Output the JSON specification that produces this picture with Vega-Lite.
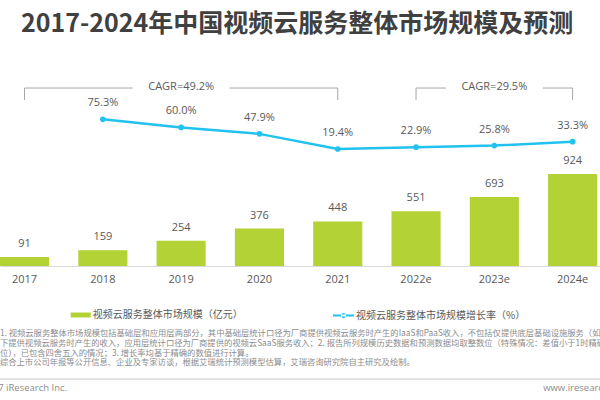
{
  "$schema": "https://vega.github.io/schema/vega-lite/v6.json",
  "autosize": "none",
  "width": 600,
  "height": 186,
  "padding": {"top": 80, "left": 0, "right": 0, "bottom": 134},
  "background": "white",
  "title": {
    "text": "2017-2024年中国视频云服务整体市场规模及预测",
    "anchor": "start",
    "frame": "group",
    "dx": 21,
    "offset": 23,
    "baseline": "alphabetic",
    "fontSize": 25,
    "fontWeight": "bold",
    "color": "#404040",
    "font": "Noto Sans CJK SC"
  },
  "config": {
    "view": {"stroke": null},
    "font": "Open Sans, Noto Sans CJK SC"
  },
  "datasets": {
    "main": [
      {"year": "2017", "size": 91, "rate": null},
      {"year": "2018", "size": 159, "rate": 0.753},
      {"year": "2019", "size": 254, "rate": 0.600},
      {"year": "2020", "size": 376, "rate": 0.479},
      {"year": "2021", "size": 448, "rate": 0.194},
      {"year": "2022e", "size": 551, "rate": 0.229},
      {"year": "2023e", "size": 693, "rate": 0.258},
      {"year": "2024e", "size": 924, "rate": 0.333}
    ],
    "cagr": [
      {"start": "2017", "mid": "2019", "end": "2021", "label": "CAGR=49.2%"},
      {"start": "2022e", "mid": "2023e", "end": "2024e", "label": "CAGR=29.5%"}
    ],
    "notes": [
      {"line": 1, "text": "注释：1. 视频云服务整体市场规模包括基础层和应用层两部分，其中基础层统计口径为厂商提供视频云服务时产生的IaaS和PaaS收入，不包括仅提供底层基础设施服务（如CDN、存储等）"},
      {"line": 2, "text": "的情况下提供视频云服务时产生的收入，应用层统计口径为厂商提供的视频云SaaS服务收入；2. 报告所列规模历史数据和预测数据均取整数位（特殊情况：差值小于1时精确到小数点后一"},
      {"line": 3, "text": "点后一位），已包含四舍五入的情况；3. 增长率均基于精确的数值进行计算。"},
      {"line": 4, "text": "来源：综合上市公司年报等公开信息、企业及专家访谈，根据艾瑞统计预测模型估算，艾瑞咨询研究院自主研究及绘制。"}
    ],
    "credits": [
      {"line": 6.5, "left": "© 2022.7 iResearch Inc.", "right": "www.iresearch.com.cn"}
    ]
  },
  "resolve": {"scale": {"y": "independent"}},
  "layer": [
    {
      "data": {"name": "main"},
      "mark": {"type": "bar"},
      "encoding": {
        "x": {
          "field": "year", "type": "nominal",
          "scale": {"paddingInner": 0.373, "paddingOuter": 0.018, "align": 0},
          "axis": {"title": null, "labelAngle": 0, "labelFontSize": 11, "labelColor": "#595959", "domainColor": "#d9d9d9", "domainWidth": 1, "ticks": false, "tickSize": 0, "labelPadding": 7, "grid": false}
        },
        "y": {"field": "size", "type": "quantitative", "scale": {"domain": [0, 1868], "nice": false}, "axis": null},
        "color": {
          "datum": "视频云服务整体市场规模（亿元）",
          "type": "nominal",
          "scale": {"range": ["#b2d235"]},
          "legend": {"orient": "none", "legendX": 70.7, "legendY": 225, "title": null, "symbolType": "M-1,-0.25H1V0.25H-1Z", "symbolSize": 400, "symbolStrokeWidth": 0, "labelFontSize": 10, "labelColor": "#595959", "labelOffset": 2, "labelLimit": 400, "padding": 0, "labelFont": "Noto Sans CJK SC"}
        }
      }
    },
    {
      "data": {"name": "main"},
      "mark": {"type": "text", "baseline": "middle", "dy": -13, "fontSize": 11, "color": "#595959"},
      "encoding": {
        "x": {"field": "year", "type": "nominal", "axis": {"title": null, "labelAngle": 0, "labelFontSize": 11, "labelColor": "#595959", "domainColor": "#d9d9d9", "domainWidth": 1, "ticks": false, "tickSize": 0, "labelPadding": 7, "grid": false}},
        "y": {"field": "size", "type": "quantitative", "scale": {"domain": [0, 1868], "nice": false}, "axis": null},
        "text": {"field": "size", "type": "quantitative"}
      }
    },
    {
      "data": {"name": "main"},
      "mark": {"type": "line", "strokeWidth": 2.5},
      "encoding": {
        "x": {"field": "year", "type": "nominal", "axis": {"title": null, "labelAngle": 0, "labelFontSize": 11, "labelColor": "#595959", "domainColor": "#d9d9d9", "domainWidth": 1, "ticks": false, "tickSize": 0, "labelPadding": 7, "grid": false}},
        "y": {"field": "rate", "type": "quantitative", "scale": {"domain": [-2.008, 1.493], "nice": false, "zero": false}, "axis": null},
        "stroke": {
          "datum": "视频云服务整体市场规模增长率（%）",
          "type": "nominal",
          "scale": {"range": ["#21c2ef"]},
          "legend": {"orient": "none", "legendX": 333, "legendY": 225, "title": null, "symbolType": "M-1,-0.1H1V0.1H-1Z M-0.25,0A0.25,0.25 0 1,0 0.25,0A0.25,0.25 0 1,0 -0.25,0Z", "symbolSize": 441, "symbolFillColor": "#21c2ef", "symbolStrokeWidth": 0, "labelFontSize": 10, "labelColor": "#595959", "labelOffset": 2, "labelLimit": 400, "padding": 0, "labelFont": "Noto Sans CJK SC",
            "encode": {"symbols": {"update": {"fill": {"value": "#21c2ef"}, "strokeWidth": {"value": 0}}}}}
        }
      }
    },
    {
      "data": {"name": "main"},
      "mark": {"type": "point", "filled": true, "size": 32, "opacity": 1, "color": "#21c2ef"},
      "encoding": {
        "x": {"field": "year", "type": "nominal", "axis": {"title": null, "labelAngle": 0, "labelFontSize": 11, "labelColor": "#595959", "domainColor": "#d9d9d9", "domainWidth": 1, "ticks": false, "tickSize": 0, "labelPadding": 7, "grid": false}},
        "y": {"field": "rate", "type": "quantitative", "scale": {"domain": [-2.008, 1.493], "nice": false, "zero": false}, "axis": null}
      }
    },
    {
      "data": {"name": "main"},
      "mark": {"type": "text", "baseline": "middle", "dy": -16, "fontSize": 11, "color": "#595959"},
      "encoding": {
        "x": {"field": "year", "type": "nominal", "axis": {"title": null, "labelAngle": 0, "labelFontSize": 11, "labelColor": "#595959", "domainColor": "#d9d9d9", "domainWidth": 1, "ticks": false, "tickSize": 0, "labelPadding": 7, "grid": false}},
        "y": {"field": "rate", "type": "quantitative", "scale": {"domain": [-2.008, 1.493], "nice": false, "zero": false}, "axis": null},
        "text": {"field": "rate", "type": "quantitative", "format": ".1%"}
      }
    },
    {
      "data": {"name": "cagr"},
      "mark": {"type": "rule", "color": "#a6a6a6", "strokeWidth": 1, "x2Offset": -48.5},
      "encoding": {
        "x": {"field": "start", "type": "nominal", "axis": {"title": null, "labelAngle": 0, "labelFontSize": 11, "labelColor": "#595959", "domainColor": "#d9d9d9", "domainWidth": 1, "ticks": false, "tickSize": 0, "labelPadding": 7, "grid": false}},
        "x2": {"field": "mid"},
        "y": {"datum": 1.342, "type": "quantitative", "scale": {"domain": [-2.008, 1.493], "nice": false, "zero": false}, "axis": null}
      }
    },
    {
      "data": {"name": "cagr"},
      "mark": {"type": "rule", "color": "#a6a6a6", "strokeWidth": 1, "xOffset": 48.5},
      "encoding": {
        "x": {"field": "mid", "type": "nominal", "axis": {"title": null, "labelAngle": 0, "labelFontSize": 11, "labelColor": "#595959", "domainColor": "#d9d9d9", "domainWidth": 1, "ticks": false, "tickSize": 0, "labelPadding": 7, "grid": false}},
        "x2": {"field": "end"},
        "y": {"datum": 1.342, "type": "quantitative", "scale": {"domain": [-2.008, 1.493], "nice": false, "zero": false}, "axis": null}
      }
    },
    {
      "data": {"name": "cagr"},
      "mark": {"type": "rule", "color": "#a6a6a6", "strokeWidth": 1},
      "encoding": {
        "x": {"field": "start", "type": "nominal", "axis": {"title": null, "labelAngle": 0, "labelFontSize": 11, "labelColor": "#595959", "domainColor": "#d9d9d9", "domainWidth": 1, "ticks": false, "tickSize": 0, "labelPadding": 7, "grid": false}},
        "y": {"datum": 1.342, "type": "quantitative", "scale": {"domain": [-2.008, 1.493], "nice": false, "zero": false}, "axis": null},
        "y2": {"datum": 1.116}
      }
    },
    {
      "data": {"name": "cagr"},
      "mark": {"type": "rule", "color": "#a6a6a6", "strokeWidth": 1},
      "encoding": {
        "x": {"field": "end", "type": "nominal", "axis": {"title": null, "labelAngle": 0, "labelFontSize": 11, "labelColor": "#595959", "domainColor": "#d9d9d9", "domainWidth": 1, "ticks": false, "tickSize": 0, "labelPadding": 7, "grid": false}},
        "y": {"datum": 1.342, "type": "quantitative", "scale": {"domain": [-2.008, 1.493], "nice": false, "zero": false}, "axis": null},
        "y2": {"datum": 1.116}
      }
    },
    {
      "data": {"name": "cagr"},
      "mark": {"type": "text", "baseline": "middle", "dy": -1, "fontSize": 11, "color": "#595959"},
      "encoding": {
        "x": {"field": "mid", "type": "nominal", "axis": {"title": null, "labelAngle": 0, "labelFontSize": 11, "labelColor": "#595959", "domainColor": "#d9d9d9", "domainWidth": 1, "ticks": false, "tickSize": 0, "labelPadding": 7, "grid": false}},
        "y": {"datum": 1.342, "type": "quantitative", "scale": {"domain": [-2.008, 1.493], "nice": false, "zero": false}, "axis": null},
        "text": {"field": "label"}
      }
    },
    {
      "data": {"name": "notes"},
      "mark": {"type": "text", "align": "left", "baseline": "middle", "fontSize": 8.3, "color": "#8c8c8c", "dx": -49.5, "font": "Noto Sans CJK SC"},
      "encoding": {
        "x": {"datum": "2017", "type": "nominal", "axis": {"title": null, "labelAngle": 0, "labelFontSize": 11, "labelColor": "#595959", "domainColor": "#d9d9d9", "domainWidth": 1, "ticks": false, "tickSize": 0, "labelPadding": 7, "grid": false}},
        "y": {"field": "line", "type": "quantitative", "scale": {"domain": [0, 10], "range": [244.2, 342.2]}, "axis": null},
        "text": {"field": "text"}
      }
    },
    {
      "data": {"name": "credits"},
      "mark": {"type": "rule", "color": "#c8c8c8", "strokeWidth": 1},
      "encoding": {
        "y": {"datum": 5.6, "type": "quantitative", "scale": {"domain": [0, 10], "range": [244.2, 342.2]}, "axis": null}
      }
    },
    {
      "data": {"name": "credits"},
      "mark": {"type": "text", "align": "right", "baseline": "middle", "fontSize": 9.5, "color": "#8c8c8c", "dx": 42.5},
      "encoding": {
        "x": {"datum": "2017", "type": "nominal", "axis": {"title": null, "labelAngle": 0, "labelFontSize": 11, "labelColor": "#595959", "domainColor": "#d9d9d9", "domainWidth": 1, "ticks": false, "tickSize": 0, "labelPadding": 7, "grid": false}},
        "y": {"field": "line", "type": "quantitative", "scale": {"domain": [0, 10], "range": [244.2, 342.2]}, "axis": null},
        "text": {"field": "left"}
      }
    },
    {
      "data": {"name": "credits"},
      "mark": {"type": "text", "align": "left", "baseline": "middle", "fontSize": 9.5, "color": "#8c8c8c", "dx": -29.5},
      "encoding": {
        "x": {"datum": "2024e", "type": "nominal", "axis": {"title": null, "labelAngle": 0, "labelFontSize": 11, "labelColor": "#595959", "domainColor": "#d9d9d9", "domainWidth": 1, "ticks": false, "tickSize": 0, "labelPadding": 7, "grid": false}},
        "y": {"field": "line", "type": "quantitative", "scale": {"domain": [0, 10], "range": [244.2, 342.2]}, "axis": null},
        "text": {"field": "right"}
      }
    }
  ]
}
